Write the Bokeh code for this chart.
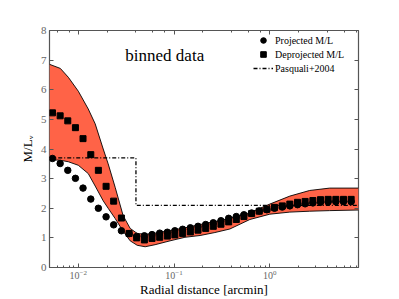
import math
from bokeh.plotting import figure
from bokeh.models import (LogAxis, LinearAxis, Legend, LegendItem,
                          FixedTicker, LogTicker)
from bokeh.core.properties import value
from bokeh.embed import file_html
from bokeh.resources import INLINE

# ---- data ----
radius = [0.00537, 0.00646, 0.00776, 0.00933, 0.0112, 0.0135, 0.0162, 0.0195,
          0.0234, 0.0282, 0.0339, 0.0407, 0.0490, 0.0589, 0.0708, 0.0851,
          0.102, 0.123, 0.148, 0.178, 0.214, 0.257, 0.309, 0.372, 0.447,
          0.537, 0.646, 0.776, 0.933, 1.12, 1.35, 1.62, 1.95, 2.34, 2.82,
          3.39, 4.07, 4.90, 5.89, 7.08]
proj_ml = [3.68, 3.51, 3.28, 3.01, 2.68, 2.31, 2.00, 1.71, 1.44, 1.24, 1.14,
           1.05, 1.07, 1.11, 1.16, 1.19, 1.24, 1.29, 1.34, 1.39, 1.45, 1.51,
           1.58, 1.66, 1.72, 1.78, 1.84, 1.91, 1.95, 2.00, 2.04, 2.08, 2.12,
           2.15, 2.18, 2.20, 2.21, 2.22, 2.22, 2.22]
deproj_ml = [5.22, 5.12, 4.95, 4.72, 4.35, 3.81, 3.28, 2.74, 2.24, 1.67, 1.15,
             1.00, 0.93, 0.98, 1.02, 1.06, 1.10, 1.15, 1.20, 1.26, 1.32, 1.39,
             1.46, 1.54, 1.62, 1.72, 1.82, 1.90, 1.97, 2.03, 2.08, 2.14, 2.20,
             2.23, 2.26, 2.29, 2.30, 2.30, 2.30, 2.30]

band_r = [0.00499, 0.00649, 0.00787, 0.0100, 0.0127, 0.0150, 0.0182, 0.0205,
          0.0243, 0.0294, 0.0348, 0.0412, 0.0499, 0.0634, 0.0908, 0.130,
          0.187, 0.267, 0.383, 0.619, 1.00, 1.62, 2.61, 4.22, 8.45]
band_lo = [3.64, 3.62, 3.57, 3.45, 3.17, 2.75, 2.25, 2.00, 1.65, 1.22, 0.90,
           0.75, 0.70, 0.77, 0.90, 1.02, 1.08, 1.18, 1.30, 1.62, 1.80, 1.87,
           1.90, 1.92, 1.94]
band_hi = [6.86, 6.72, 6.42, 5.95, 5.35, 4.85, 4.00, 3.50, 2.70, 1.75, 1.32,
           1.15, 1.12, 1.16, 1.25, 1.34, 1.45, 1.55, 1.66, 1.85, 2.14, 2.41,
           2.60, 2.68, 2.68]

pasq_r = [0.004, 0.04, 0.04, 10.0]
pasq_ml = [3.7, 3.7, 2.1, 2.1]

y_ticks = [0, 1, 2, 3, 4, 5, 6, 7, 8]
x_lim = (0.005, 8.45)
y_lim = (0, 8)

SERIF = "Liberation Serif"
GREY = "#555555"

p = figure(width=399, height=299, x_axis_type="log", x_range=x_lim,
           y_range=y_lim, output_backend="svg", toolbar_location=None,
           min_border_left=49, min_border_right=41, min_border_top=30,
           min_border_bottom=30)
p.xgrid.visible = False
p.ygrid.visible = False
p.outline_line_color = GREY
p.outline_line_width = 1.2
p.background_fill_color = "white"

# band
p.varea(x=band_r, y1=band_lo, y2=band_hi, fill_color="#FF6347")
p.line(band_r, band_lo, line_color="black", line_width=0.9)
p.line(band_r, band_hi, line_color="black", line_width=0.9)

# Pasquali step
r_pasq = p.line(pasq_r, pasq_ml, line_color="black", line_width=1.3,
                line_dash="4 2 1 2")

# markers
r_proj = p.scatter(radius, proj_ml, marker="circle", size=6.5,
                   fill_color="black", line_color="black")
r_deproj = p.scatter(radius, deproj_ml, marker="square", size=6,
                     fill_color="black", line_color="black")

# text
p.text(x=[0.031], y=[7.16], text=["binned data"], text_font=value(SERIF),
       text_font_size="17px", text_baseline="middle", text_align="left",
       text_color="black")

# axes styling
def style(ax, labels=True, size="10px"):
    ax.axis_line_color = None
    ax.major_tick_in = 4
    ax.major_tick_out = 0
    ax.minor_tick_in = 2
    ax.minor_tick_out = 0
    ax.major_tick_line_color = GREY
    ax.minor_tick_line_color = GREY
    ax.major_label_text_font = SERIF
    ax.major_label_text_color = "#666666"
    ax.major_label_text_font_size = size if labels else "4px"
    if not labels:
        ax.major_label_text_alpha = 0
    ax.major_label_standoff = 3 if labels else 0

style(p.xaxis[0], size="10px")
style(p.yaxis[0], size="11px")
p.yaxis[0].ticker = FixedTicker(ticks=y_ticks)
p.xaxis[0].major_label_standoff = 2

p.xaxis[0].axis_label = "Radial distance [arcmin]"
p.xaxis[0].axis_label_text_font = SERIF
p.xaxis[0].axis_label_text_font_size = "13px"
p.xaxis[0].axis_label_text_font_style = "normal"
p.xaxis[0].axis_label_text_color = "black"
p.xaxis[0].axis_label_standoff = 0

p.yaxis[0].axis_label = "M/L\u1d65"
p.yaxis[0].axis_label_text_font = SERIF
p.yaxis[0].axis_label_text_font_size = "13px"
p.yaxis[0].axis_label_text_font_style = "normal"
p.yaxis[0].axis_label_text_color = "black"
p.yaxis[0].axis_label_standoff = 3

top = LogAxis(ticker=LogTicker())
style(top, labels=False)
p.add_layout(top, "above")
right = LinearAxis(ticker=FixedTicker(ticks=y_ticks))
style(right, labels=False)
p.add_layout(right, "right")

legend = Legend(items=[
    LegendItem(label="Projected M/L", renderers=[r_proj]),
    LegendItem(label="Deprojected M/L", renderers=[r_deproj]),
    LegendItem(label="Pasquali+2004", renderers=[r_pasq]),
], location=(204, 192))
legend.border_line_color = None
legend.background_fill_alpha = 0
legend.padding = 0
legend.margin = 0
legend.spacing = 0
legend.label_height = 14
legend.glyph_height = 14
legend.glyph_width = 20
legend.label_standoff = 2
legend.label_text_font = SERIF
legend.label_text_font_size = "10px"
legend.label_text_color = "black"
p.add_layout(legend, "center")

open("out.html", "w").write(file_html(p, INLINE))
